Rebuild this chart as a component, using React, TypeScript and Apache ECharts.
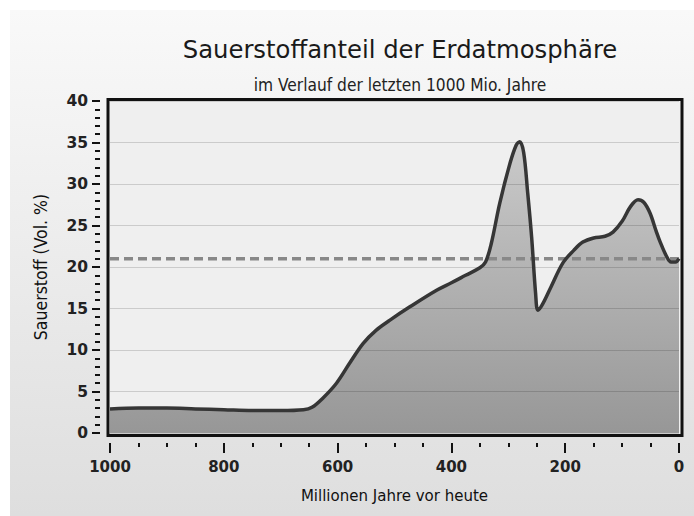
import React, { useEffect, useRef } from "react";
import * as echarts from "echarts";

const years = [1000, 950, 900, 850, 800, 750, 700, 660, 645, 626, 602, 579, 555, 532, 508, 473, 426, 400, 375, 350, 340, 330, 315, 297, 286, 280, 273, 266, 259, 252, 248, 240, 225, 204, 185, 169, 150, 130, 116, 100, 85, 72, 62, 51, 40, 33, 22, 14, 6, 0];
const oxygen = [2.9, 3.0, 3.0, 2.9, 2.8, 2.7, 2.7, 2.8, 3.1, 4.2, 6.0, 8.4, 10.8, 12.4, 13.6, 15.2, 17.2, 18.1, 19.0, 19.9, 20.6, 22.8, 27.7, 32.5, 34.7, 35.1, 33.8, 29.0, 23.6, 16.8, 14.8, 15.5, 17.6, 20.5, 22.0, 23.0, 23.5, 23.7, 24.2, 25.5, 27.3, 28.1, 27.8, 26.5, 24.3, 23.0, 21.3, 20.6, 20.6, 21.0];
const presentYears = [1000, 0];
const presentLevel = [21, 21];
const titleText = "Sauerstoffanteil der Erdatmosphäre";
const subtitleText = "im Verlauf der letzten 1000 Mio. Jahre";
const xName = "Millionen Jahre vor heute";
const yName = "Sauerstoff (Vol. %)";

const FONT = "DejaVu Sans";
const FONT_C = "'DejaVu Sans Condensed', 'DejaVu Sans'";

export default function App() {
  const ref = useRef<HTMLDivElement>(null);
  useEffect(() => {
    if (!ref.current) return;
    const chart = echarts.init(ref.current, null, { renderer: "svg" });
    const curve = years.map((y, i) => [y, oxygen[i]]);
    chart.setOption({
      animation: false,
      backgroundColor: "#ffffff",
      title: [
        {
          text: titleText,
          left: 395,
          top: 32,
          textAlign: "center",
          textStyle: { fontFamily: FONT, fontSize: 24.3, fontWeight: "normal", color: "#1a1a1a" },
        },
        {
          text: subtitleText,
          left: 395,
          top: 71,
          textAlign: "center",
          textStyle: { fontFamily: FONT_C, fontSize: 17.2, fontWeight: "normal", color: "#222" },
        },
      ],
      graphic: [
        {
          type: "rect",
          z: -20,
          silent: true,
          shape: { x: 10, y: 10, width: 684, height: 506 },
          style: {
            fill: new echarts.graphic.LinearGradient(0, 0, 0, 1, [
              { offset: 0, color: "#f9f9f9" },
              { offset: 1, color: "#dedede" },
            ]),
          },
        },
        {
          type: "rect",
          z: -10,
          silent: true,
          shape: { x: 108, y: 99.5, width: 574, height: 336 },
          style: { fill: "#efefef" },
        },
        {
          type: "rect",
          z: 100,
          silent: true,
          shape: { x: 108, y: 99.5, width: 574, height: 336 },
          style: { fill: "none", stroke: "#111", lineWidth: 3 },
        },
      ],
      grid: { left: 110, right: 15, top: 101, bottom: 83 },
      xAxis: {
        type: "value",
        inverse: true,
        min: 0,
        max: 1000,
        interval: 200,
        offset: 10,
        name: xName,
        nameLocation: "middle",
        nameGap: 43,
        nameTextStyle: { fontFamily: FONT_C, fontSize: 16.7, color: "#111" },
        axisLine: { show: false, onZero: false },
        axisTick: { show: true, length: 10, lineStyle: { color: "#111", width: 2 } },
        minorTick: { show: true, splitNumber: 4, length: 4, lineStyle: { color: "#111", width: 2 } },
        axisLabel: {
          margin: 16,
          fontFamily: FONT,
          fontSize: 15,
          fontWeight: "bold",
          color: "#222",
          formatter: (v: number) => String(v),
        },
        splitLine: { show: false },
      },
      yAxis: {
        type: "value",
        min: 0,
        max: 40,
        interval: 5,
        offset: 10,
        z: 2,
        name: yName,
        nameLocation: "middle",
        nameGap: 50,
        nameTextStyle: { fontFamily: FONT_C, fontSize: 17.5, color: "#111" },
        axisLine: { show: false, onZero: false },
        axisTick: { show: true, length: 8, lineStyle: { color: "#111", width: 2 } },
        minorTick: { show: true, splitNumber: 5, length: 5, lineStyle: { color: "#111", width: 2 } },
        axisLabel: {
          margin: 12,
          fontFamily: FONT,
          fontSize: 15.5,
          fontWeight: "bold",
          color: "#222",
          formatter: (v: number) => String(v),
        },
        splitLine: { show: true, lineStyle: { color: "rgba(0,0,0,0.15)", width: 1 } },
      },
      series: [
        {
          type: "line",
          data: curve,
          smooth: 0.35,
          symbol: "none",
          z: 1,
          lineStyle: { width: 0, opacity: 0 },
          areaStyle: {
            origin: "start",
            opacity: 1,
            color: new echarts.graphic.LinearGradient(0, 0, 0, 1, [
              { offset: 0, color: "#cacaca" },
              { offset: 1, color: "#979797" },
            ]),
          },
        },
        {
          type: "line",
          data: presentYears.map((y, i) => [y, presentLevel[i]]),
          symbol: "none",
          z: 3,
          lineStyle: { color: "#888888", width: 3.5, type: [9, 5] },
        },
        {
          type: "line",
          data: curve,
          smooth: 0.35,
          symbol: "none",
          z: 4,
          lineStyle: { color: "#363636", width: 3.5 },
        },
      ],
    });
    return () => chart.dispose();
  }, []);
  return (
    <div
      ref={ref}
      style={{ position: "absolute", left: 0, top: 0, width: 694, height: 516 }}
    />
  );
}
